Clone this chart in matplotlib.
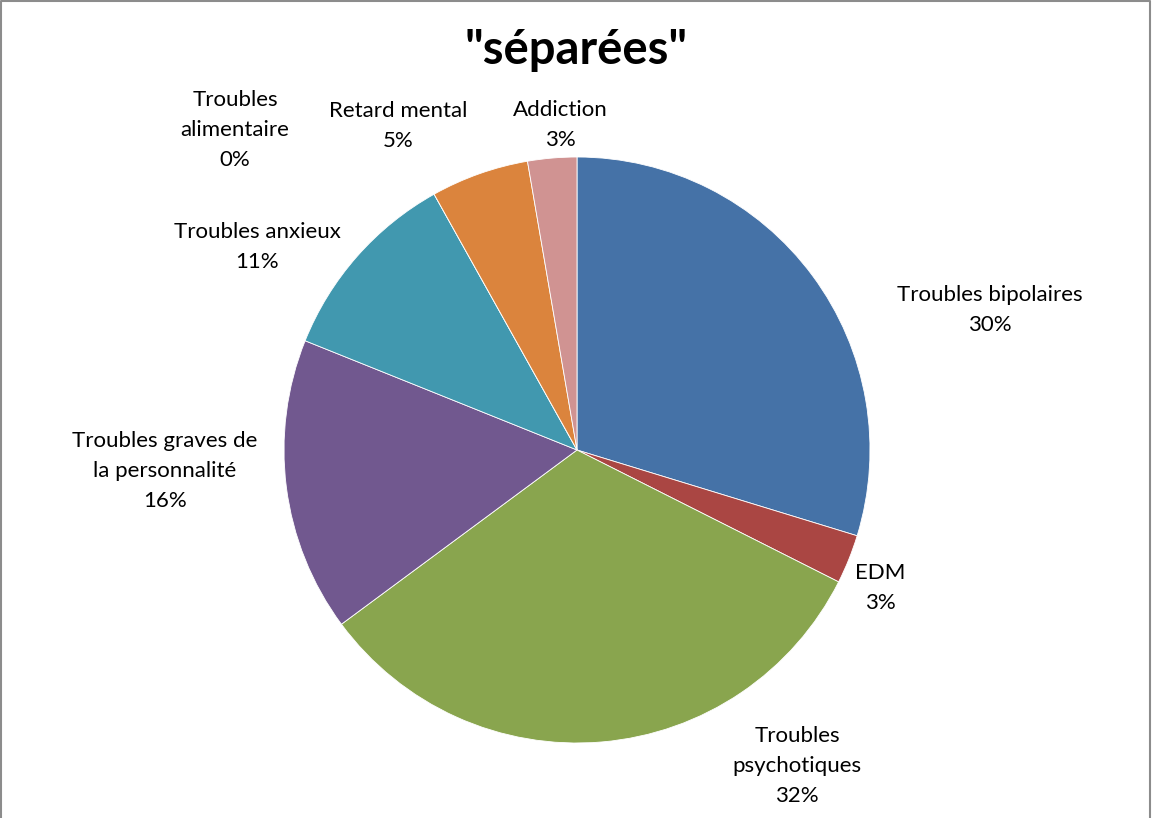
import matplotlib
matplotlib.use("Agg")
from matplotlib import pyplot as plt

# Data (counts, 37 in total)
labels = ['Troubles bipolaires', 'EDM', 'Troubles\npsychotiques',
          'Troubles graves de\nla personnalité', 'Troubles anxieux',
          'Troubles\nalimentaire', 'Retard mental', 'Addiction']
counts = [11, 1, 12, 6, 4, 0, 2, 1]
colors = ['#4572A7', '#AA4643', '#89A54E', '#71588F',
          '#4198AF', '#4198AF', '#DB843D', '#D09392']

# Layout (pixels, y measured from top)
W, H = 1152, 818
CX, CY, R = 577, 450, 293
label_xy = [(990, 310), (880, 588), (797, 766), (165, 471),
            (257, 247), (235, 130), (398, 126), (560, 125)]

plt.rcParams['font.family'] = ['Lato', 'DejaVu Sans']

fig = plt.figure(figsize=(W / 100, H / 100), dpi=100)
ax = fig.add_axes([0, 0, 1, 1])

ax.pie(counts, colors=colors, startangle=90, counterclock=False,
       center=(CX, H - CY), radius=R,
       wedgeprops=dict(edgecolor='white', linewidth=0.6))
ax.set_xlim(0, W)
ax.set_ylim(0, H)
ax.set_aspect('equal')
ax.axis('off')

total = sum(counts)
for lab, n, (x, y) in zip(labels, counts, label_xy):
    pct = round(100 * n / total)
    ax.text(x, H - y, f"{lab}\n{pct}%", ha='center', va='center',
            fontsize=16, linespacing=1.6, color='black')

ax.text(W / 2, H - 50, '"séparées"', ha='center', va='center',
        fontsize=34, fontweight='bold')

# thin grey frame on left, top and right
ax.plot([1, 1, W - 2, W - 2], [0, H - 1, H - 1, 0], color='#8c8c8c', lw=1.5)

fig.savefig('out.png', dpi=100)
